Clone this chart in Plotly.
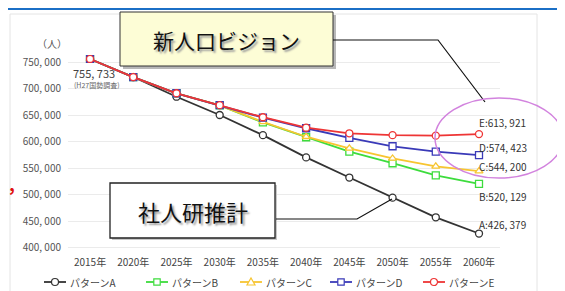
import plotly.graph_objects as go

W, H = 565, 291
years = [2015, 2020, 2025, 2030, 2035, 2040, 2045, 2050, 2055, 2060]
year_labels = [f"{y}年" for y in years]
pattern_a = [755733, 721600, 684500, 650000, 612000, 570000, 532000, 494000, 457000, 426379]
pattern_b = [755733, 721600, 691000, 668000, 636000, 608000, 581000, 559000, 536000, 520129]
pattern_c = [755733, 721600, 691000, 668000, 637000, 609000, 587000, 568000, 553000, 544200]
pattern_d = [755733, 721600, 691000, 668600, 645000, 625000, 607000, 591000, 581000, 574423]
pattern_e = [755733, 721600, 691000, 668600, 645800, 626000, 615500, 612000, 611000, 613921]
series_names = ["パターンA", "パターンB", "パターンC", "パターンD", "パターンE"]
end_labels = ["A:426, 379", "B:520, 129", "C:544, 200", "D:574, 423", "E:613, 921"]
y_ticks = [400000, 450000, 500000, 550000, 600000, 650000, 700000, 750000]
y_tick_text = ["400, 000", "450, 000", "500, 000", "550, 000", "600, 000", "650, 000", "700, 000", "750, 000"]

colors = ["#333333", "#3ddc3d", "#f7c531", "#3a3ab8", "#ee3535"]
symbols = ["circle", "square", "triangle-up", "square", "circle"]
series = [pattern_a, pattern_b, pattern_c, pattern_d, pattern_e]

# the page body adds an 8px offset; target coordinates below are screen pixels
OFF = 8
SL, SR, ST, SB = 68, 500, 55, 250          # plot area on screen
L, R, T, B = SL - OFF, SR - OFF, ST - OFF, SB - OFF   # plot area in figure coords
FONT = "Noto Sans CJK JP"

def px(X):
    return (X - SL) / (SR - SL)

def py(Y):
    return (SB - Y) / (SB - ST)

fig = go.Figure()
for name, vals, c, s in zip(series_names, series, colors, symbols):
    fig.add_trace(go.Scatter(
        x=years, y=vals, name=name, mode="lines+markers",
        line=dict(color=c, width=1.8),
        marker=dict(symbol=s, size=7, color="white", line=dict(color=c, width=1.3)),
        showlegend=False,
    ))

shapes = []
# top blue stripe (as high as the page allows)
shapes.append(dict(type="rect", xref="paper", yref="paper", x0=px(0), x1=px(W + 10), y0=py(8), y1=py(10),
                   fillcolor="#1b6fc6", line=dict(width=0), layer="below"))
# panel border
shapes.append(dict(type="rect", xref="paper", yref="paper", x0=px(10), x1=px(537), y0=py(14), y1=py(295),
                   fillcolor="rgba(0,0,0,0)", line=dict(color="#e4e4e4", width=1), layer="below"))
# box 1 shadow + box
shapes.append(dict(type="rect", xref="paper", yref="paper", x0=px(123), x1=px(336), y0=py(15), y1=py(69),
                   fillcolor="#b8b8b8", line=dict(width=0)))
shapes.append(dict(type="rect", xref="paper", yref="paper", x0=px(120), x1=px(333), y0=py(12), y1=py(66),
                   fillcolor="#fdfdd6", line=dict(color="#333333", width=1)))
# connector 1
shapes.append(dict(type="path", xref="paper", yref="paper",
                   path=f"M {px(333)} {py(40)} L {px(438)} {py(40)} L {px(485)} {py(102)}",
                   line=dict(color="#111111", width=1.2)))
# box 2
shapes.append(dict(type="rect", xref="paper", yref="paper", x0=px(112), x1=px(277), y0=py(185), y1=py(240),
                   fillcolor="#c8c8c8", line=dict(width=0)))
shapes.append(dict(type="rect", xref="paper", yref="paper", x0=px(110), x1=px(275), y0=py(183), y1=py(238),
                   fillcolor="white", line=dict(color="#222222", width=1.3)))
shapes.append(dict(type="path", xref="paper", yref="paper",
                   path=f"M {px(276)} {py(219)} L {px(357)} {py(219)} L {px(392)} {py(199)}",
                   line=dict(color="#111111", width=1.2)))
# ellipse
shapes.append(dict(type="circle", xref="paper", yref="paper", x0=px(435), x1=px(563), y0=py(98), y1=py(178),
                   fillcolor="rgba(0,0,0,0)", line=dict(color="#d283de", width=1.5)))

ann = []
def text(X, Y, t, size, color="#333", xanchor="left", shadow=None):
    font = dict(size=size, color=color, family=FONT)
    if shadow:
        font["shadow"] = shadow
    ann.append(dict(x=px(X), y=py(Y), xref="paper", yref="paper", text=t,
                    showarrow=False, xanchor=xanchor, yanchor="middle", font=font))

# manual legend
leg_x = [44, 146, 240, 330, 423]
LEG_Y = 282
for x0, name, c, s in zip(leg_x, series_names, colors, symbols):
    shapes.append(dict(type="line", xref="paper", yref="paper", x0=px(x0), x1=px(x0 + 22),
                       y0=py(LEG_Y), y1=py(LEG_Y), line=dict(color=c, width=1.8)))
    cx = x0 + 11
    if s == "circle":
        shapes.append(dict(type="circle", xref="paper", yref="paper", x0=px(cx - 3.5), x1=px(cx + 3.5),
                           y0=py(LEG_Y + 3.5), y1=py(LEG_Y - 3.5), fillcolor="white", line=dict(color=c, width=1.2)))
    elif s == "square":
        shapes.append(dict(type="rect", xref="paper", yref="paper", x0=px(cx - 3.2), x1=px(cx + 3.2),
                           y0=py(LEG_Y + 3.2), y1=py(LEG_Y - 3.2), fillcolor="white", line=dict(color=c, width=1.2)))
    else:
        shapes.append(dict(type="path", xref="paper", yref="paper",
                           path=f"M {px(cx - 4)} {py(LEG_Y + 3)} L {px(cx + 4)} {py(LEG_Y + 3)} L {px(cx)} {py(LEG_Y - 4)} Z",
                           fillcolor="white", line=dict(color=c, width=1.2)))
    text(x0 + 24, LEG_Y, name, 10, "#444")

text(52, 43, "（人）", 10, "#555", xanchor="center")
text(71, 73, "755, 733", 11, "#444")
text(72, 85, "(H27国勢調査)", 7, "#666")
label_y = [224, 196, 166, 147, 122]
for t, yy in zip(end_labels, label_y):
    text(477, yy, t, 10, "#333")
# callout texts with soft shadow
text(226, 40, "新人口ビジョン", 21, "#111111", xanchor="center", shadow="2px 2px 2px #999999")
text(193, 211, "社人研推計", 22, "#111111", xanchor="center", shadow="2px 2px 2px #999999")
text(12, 183, "<b>,</b>", 18, "#e01010", xanchor="center")

fig.update_layout(
    width=W, height=H,
    margin=dict(l=L, r=W - R, t=T, b=H - B, pad=0),
    paper_bgcolor="white", plot_bgcolor="white",
    font=dict(family=FONT, color="#444"),
    showlegend=False,
    xaxis=dict(range=[2012.45, 2062.43], tickvals=years, ticktext=year_labels,
               showgrid=False, zeroline=False, showline=False, ticks="",
               tickfont=dict(size=10, color="#444", family=FONT), ticklabelstandoff=5),
    yaxis=dict(range=[395300, 763200], tickvals=y_ticks, ticktext=y_tick_text,
               showgrid=True, gridcolor="#ebebeb", gridwidth=1, zeroline=False, showline=False,
               ticks="", tickfont=dict(size=10, color="#555", family=FONT), ticklabelstandoff=6),
    shapes=shapes, annotations=ann,
)

fig.write_html("out.html")
